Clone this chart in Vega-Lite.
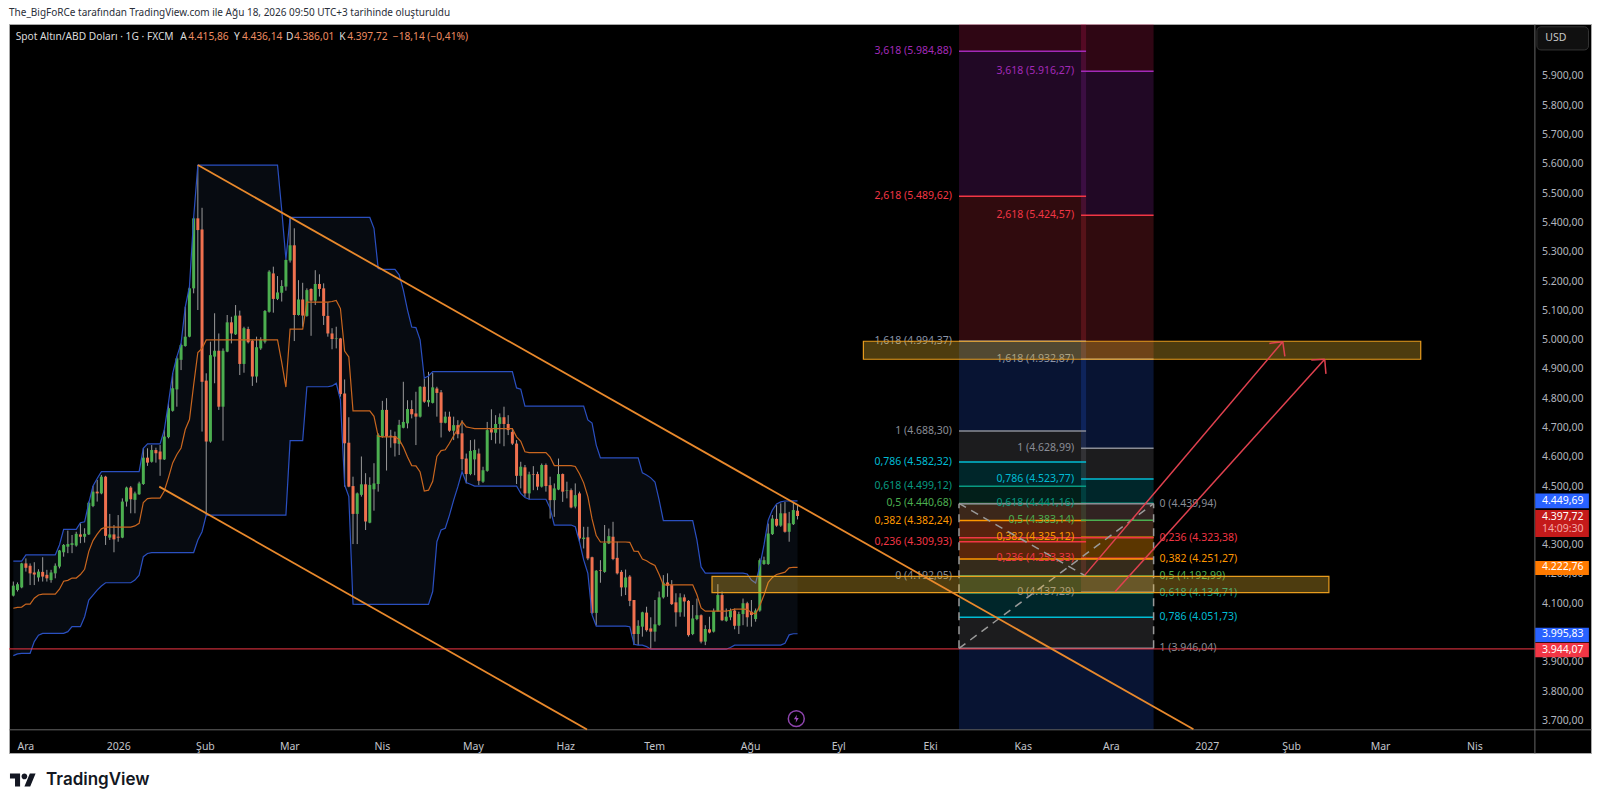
{
"$schema":"https://vega.github.io/schema/vega-lite/v6.json",
"width":1582,"height":729,
"autosize":{"type":"none"},
"padding":{"left":9,"top":24,"right":9,"bottom":53},
"background":"#ffffff",
"title":{"text":"The_BigFoRCe tarafından TradingView.com ile Ağu 18, 2026 09:50 UTC+3 tarihinde oluşturuldu","anchor":"start","frame":"group","fontSize":10,"fontWeight":"normal","color":"#2a2e39","offset":6},
"config":{"font":"Noto Sans","view":{"stroke":"#a8a8a8","fill":"#000000"},"text":{"fontSize":10.5}},
"datasets":{
"bars":[
{"i":0,"o":4126,"h":4174,"l":4123,"c":4160,"u":4244,"m":4083,"b":3921},
{"i":1,"o":4145,"h":4171,"l":4140,"c":4165,"u":4244,"m":4086,"b":3927},
{"i":2,"o":4154,"h":4238,"l":4151,"c":4236,"u":4244,"m":4087,"b":3929},
{"i":3,"o":4236,"h":4253,"l":4208,"c":4221,"u":4265,"m":4097,"b":3929},
{"i":4,"o":4228,"h":4236,"l":4162,"c":4202,"u":4265,"m":4097,"b":3929},
{"i":5,"o":4205,"h":4240,"l":4162,"c":4198,"u":4265,"m":4117,"b":3969},
{"i":6,"o":4188,"h":4216,"l":4174,"c":4208,"u":4265,"m":4128,"b":3991},
{"i":7,"o":4207,"h":4257,"l":4174,"c":4191,"u":4265,"m":4131,"b":3997},
{"i":8,"o":4197,"h":4214,"l":4174,"c":4185,"u":4265,"m":4131,"b":3997},
{"i":9,"o":4179,"h":4214,"l":4170,"c":4205,"u":4265,"m":4131,"b":3997},
{"i":10,"o":4202,"h":4236,"l":4185,"c":4228,"u":4265,"m":4131,"b":3997},
{"i":11,"o":4225,"h":4282,"l":4219,"c":4280,"u":4299,"m":4148,"b":3997},
{"i":12,"o":4274,"h":4302,"l":4259,"c":4299,"u":4352,"m":4175,"b":3997},
{"i":13,"o":4293,"h":4348,"l":4271,"c":4302,"u":4352,"m":4178,"b":4003},
{"i":14,"o":4299,"h":4333,"l":4271,"c":4305,"u":4352,"m":4186,"b":4020},
{"i":15,"o":4297,"h":4344,"l":4293,"c":4337,"u":4352,"m":4186,"b":4020},
{"i":16,"o":4335,"h":4373,"l":4305,"c":4327,"u":4375,"m":4198,"b":4020},
{"i":17,"o":4327,"h":4356,"l":4307,"c":4337,"u":4378,"m":4216,"b":4054},
{"i":18,"o":4335,"h":4447,"l":4333,"c":4443,"u":4443,"m":4277,"b":4111},
{"i":19,"o":4432,"h":4500,"l":4428,"c":4481,"u":4500,"m":4314,"b":4128},
{"i":20,"o":4481,"h":4521,"l":4447,"c":4475,"u":4526,"m":4336,"b":4145},
{"i":21,"o":4475,"h":4538,"l":4472,"c":4532,"u":4549,"m":4354,"b":4159},
{"i":22,"o":4532,"h":4535,"l":4299,"c":4330,"u":4549,"m":4360,"b":4170},
{"i":23,"o":4324,"h":4405,"l":4316,"c":4335,"u":4549,"m":4360,"b":4170},
{"i":24,"o":4335,"h":4367,"l":4274,"c":4318,"u":4549,"m":4360,"b":4170},
{"i":25,"o":4327,"h":4401,"l":4310,"c":4324,"u":4549,"m":4360,"b":4170},
{"i":26,"o":4324,"h":4458,"l":4322,"c":4447,"u":4549,"m":4360,"b":4170},
{"i":27,"o":4447,"h":4498,"l":4430,"c":4495,"u":4549,"m":4360,"b":4170},
{"i":28,"o":4495,"h":4500,"l":4407,"c":4455,"u":4549,"m":4360,"b":4170},
{"i":29,"o":4453,"h":4481,"l":4407,"c":4475,"u":4549,"m":4364,"b":4179},
{"i":30,"o":4472,"h":4515,"l":4470,"c":4509,"u":4549,"m":4373,"b":4196},
{"i":31,"o":4507,"h":4629,"l":4504,"c":4597,"u":4629,"m":4444,"b":4259},
{"i":32,"o":4597,"h":4629,"l":4569,"c":4580,"u":4644,"m":4457,"b":4270},
{"i":33,"o":4583,"h":4640,"l":4580,"c":4623,"u":4644,"m":4459,"b":4273},
{"i":34,"o":4623,"h":4631,"l":4580,"c":4612,"u":4644,"m":4459,"b":4273},
{"i":35,"o":4618,"h":4640,"l":4535,"c":4591,"u":4644,"m":4459,"b":4273},
{"i":36,"o":4591,"h":4692,"l":4589,"c":4669,"u":4692,"m":4483,"b":4273},
{"i":37,"o":4667,"h":4785,"l":4663,"c":4766,"u":4785,"m":4529,"b":4273},
{"i":38,"o":4757,"h":4885,"l":4754,"c":4834,"u":4885,"m":4579,"b":4273},
{"i":39,"o":4830,"h":4942,"l":4771,"c":4936,"u":4942,"m":4608,"b":4273},
{"i":40,"o":4931,"h":4987,"l":4896,"c":4982,"u":4987,"m":4630,"b":4273},
{"i":41,"o":4978,"h":5112,"l":4976,"c":5010,"u":5112,"m":4693,"b":4273},
{"i":42,"o":5010,"h":5181,"l":5008,"c":5175,"u":5181,"m":4727,"b":4273},
{"i":43,"o":5175,"h":5417,"l":5158,"c":5414,"u":5417,"m":4845,"b":4273},
{"i":44,"o":5414,"h":5596,"l":5101,"c":5374,"u":5596,"m":4956,"b":4316},
{"i":45,"o":5376,"h":5450,"l":4686,"c":4856,"u":5596,"m":4970,"b":4344},
{"i":46,"o":4860,"h":4885,"l":4401,"c":4652,"u":5596,"m":4999,"b":4401},
{"i":47,"o":4652,"h":4993,"l":4648,"c":4947,"u":5596,"m":4999,"b":4401},
{"i":48,"o":4942,"h":5090,"l":4851,"c":4962,"u":5596,"m":4999,"b":4401},
{"i":49,"o":4962,"h":5021,"l":4760,"c":4771,"u":5596,"m":4999,"b":4401},
{"i":50,"o":4771,"h":4970,"l":4655,"c":4962,"u":5596,"m":4999,"b":4401},
{"i":51,"o":4959,"h":5084,"l":4957,"c":5059,"u":5596,"m":4999,"b":4401},
{"i":52,"o":5059,"h":5078,"l":4987,"c":5021,"u":5596,"m":4999,"b":4401},
{"i":53,"o":5018,"h":5118,"l":5016,"c":5082,"u":5596,"m":4999,"b":4401},
{"i":54,"o":5082,"h":5099,"l":4879,"c":4917,"u":5596,"m":4999,"b":4401},
{"i":55,"o":4917,"h":5044,"l":4887,"c":5039,"u":5596,"m":4999,"b":4401},
{"i":56,"o":5036,"h":5044,"l":4987,"c":4991,"u":5596,"m":4999,"b":4401},
{"i":57,"o":4996,"h":4999,"l":4842,"c":4874,"u":5596,"m":4999,"b":4401},
{"i":58,"o":4874,"h":5010,"l":4853,"c":4974,"u":5596,"m":4999,"b":4401},
{"i":59,"o":4970,"h":5008,"l":4965,"c":4999,"u":5596,"m":4999,"b":4401},
{"i":60,"o":4993,"h":5101,"l":4987,"c":5098,"u":5596,"m":4999,"b":4401},
{"i":61,"o":5095,"h":5237,"l":5092,"c":5232,"u":5596,"m":4999,"b":4401},
{"i":62,"o":5226,"h":5249,"l":5092,"c":5139,"u":5596,"m":4999,"b":4401},
{"i":63,"o":5139,"h":5217,"l":5135,"c":5161,"u":5596,"m":4999,"b":4401},
{"i":64,"o":5160,"h":5203,"l":5130,"c":5183,"u":5443,"m":4922,"b":4401},
{"i":65,"o":5181,"h":5274,"l":5167,"c":5272,"u":5274,"m":4838,"b":4401},
{"i":66,"o":5270,"h":5414,"l":5263,"c":5322,"u":5417,"m":5036,"b":4655},
{"i":67,"o":5322,"h":5380,"l":4995,"c":5084,"u":5417,"m":5036,"b":4655},
{"i":68,"o":5084,"h":5203,"l":5082,"c":5137,"u":5417,"m":5036,"b":4655},
{"i":69,"o":5137,"h":5194,"l":5044,"c":5082,"u":5417,"m":5036,"b":4655},
{"i":70,"o":5081,"h":5175,"l":5078,"c":5169,"u":5417,"m":5128,"b":4839},
{"i":71,"o":5173,"h":5175,"l":5013,"c":5133,"u":5417,"m":5128,"b":4839},
{"i":72,"o":5133,"h":5237,"l":5118,"c":5190,"u":5417,"m":5128,"b":4839},
{"i":73,"o":5190,"h":5223,"l":5147,"c":5173,"u":5417,"m":5128,"b":4839},
{"i":74,"o":5175,"h":5192,"l":5050,"c":5081,"u":5417,"m":5128,"b":4839},
{"i":75,"o":5081,"h":5127,"l":5010,"c":5021,"u":5417,"m":5128,"b":4839},
{"i":76,"o":5021,"h":5039,"l":4967,"c":5002,"u":5417,"m":5130,"b":4842},
{"i":77,"o":5002,"h":5044,"l":4970,"c":5004,"u":5417,"m":5134,"b":4851},
{"i":78,"o":5004,"h":5006,"l":4805,"c":4814,"u":5417,"m":5106,"b":4794},
{"i":79,"o":4816,"h":4864,"l":4498,"c":4646,"u":5417,"m":4961,"b":4504},
{"i":80,"o":4648,"h":4735,"l":4496,"c":4498,"u":5417,"m":4941,"b":4464},
{"i":81,"o":4500,"h":4532,"l":4302,"c":4405,"u":5417,"m":4757,"b":4097},
{"i":82,"o":4405,"h":4478,"l":4302,"c":4475,"u":5417,"m":4757,"b":4096},
{"i":83,"o":4470,"h":4601,"l":4464,"c":4506,"u":5417,"m":4757,"b":4096},
{"i":84,"o":4506,"h":4544,"l":4350,"c":4379,"u":5417,"m":4757,"b":4096},
{"i":85,"o":4375,"h":4530,"l":4373,"c":4504,"u":5417,"m":4757,"b":4096},
{"i":86,"o":4489,"h":4578,"l":4416,"c":4509,"u":5380,"m":4738,"b":4096},
{"i":87,"o":4507,"h":4680,"l":4481,"c":4675,"u":5243,"m":4670,"b":4096},
{"i":88,"o":4669,"h":4791,"l":4665,"c":4760,"u":5240,"m":4668,"b":4096},
{"i":89,"o":4760,"h":4800,"l":4553,"c":4669,"u":5240,"m":4668,"b":4096},
{"i":90,"o":4672,"h":4692,"l":4631,"c":4669,"u":5240,"m":4668,"b":4096},
{"i":91,"o":4671,"h":4686,"l":4601,"c":4646,"u":5240,"m":4668,"b":4096},
{"i":92,"o":4644,"h":4726,"l":4606,"c":4709,"u":5221,"m":4659,"b":4096},
{"i":93,"o":4699,"h":4856,"l":4697,"c":4719,"u":5169,"m":4633,"b":4096},
{"i":94,"o":4714,"h":4793,"l":4697,"c":4763,"u":5101,"m":4599,"b":4096},
{"i":95,"o":4763,"h":4793,"l":4731,"c":4745,"u":5043,"m":4570,"b":4096},
{"i":96,"o":4748,"h":4822,"l":4640,"c":4737,"u":5041,"m":4569,"b":4096},
{"i":97,"o":4737,"h":4841,"l":4734,"c":4839,"u":4999,"m":4548,"b":4096},
{"i":98,"o":4839,"h":4867,"l":4784,"c":4788,"u":4869,"m":4483,"b":4096},
{"i":99,"o":4786,"h":4890,"l":4771,"c":4794,"u":4876,"m":4486,"b":4096},
{"i":100,"o":4784,"h":4887,"l":4782,"c":4837,"u":4891,"m":4516,"b":4140},
{"i":101,"o":4833,"h":4839,"l":4737,"c":4818,"u":4891,"m":4601,"b":4310},
{"i":102,"o":4820,"h":4828,"l":4666,"c":4716,"u":4891,"m":4621,"b":4350},
{"i":103,"o":4716,"h":4754,"l":4714,"c":4737,"u":4891,"m":4624,"b":4356},
{"i":104,"o":4737,"h":4754,"l":4685,"c":4689,"u":4891,"m":4646,"b":4401},
{"i":105,"o":4689,"h":4737,"l":4657,"c":4708,"u":4891,"m":4672,"b":4452},
{"i":106,"o":4708,"h":4725,"l":4663,"c":4677,"u":4891,"m":4695,"b":4498},
{"i":107,"o":4680,"h":4725,"l":4554,"c":4592,"u":4891,"m":4720,"b":4549},
{"i":108,"o":4594,"h":4611,"l":4509,"c":4541,"u":4891,"m":4702,"b":4512},
{"i":109,"o":4541,"h":4657,"l":4537,"c":4620,"u":4891,"m":4699,"b":4506},
{"i":110,"o":4591,"h":4659,"l":4537,"c":4623,"u":4891,"m":4696,"b":4500},
{"i":111,"o":4611,"h":4628,"l":4503,"c":4518,"u":4891,"m":4696,"b":4500},
{"i":112,"o":4515,"h":4566,"l":4511,"c":4554,"u":4891,"m":4696,"b":4500},
{"i":113,"o":4552,"h":4719,"l":4549,"c":4691,"u":4891,"m":4696,"b":4500},
{"i":114,"o":4694,"h":4762,"l":4657,"c":4683,"u":4891,"m":4696,"b":4500},
{"i":115,"o":4682,"h":4742,"l":4645,"c":4712,"u":4891,"m":4696,"b":4500},
{"i":116,"o":4712,"h":4748,"l":4645,"c":4735,"u":4891,"m":4696,"b":4500},
{"i":117,"o":4735,"h":4771,"l":4636,"c":4712,"u":4891,"m":4696,"b":4500},
{"i":118,"o":4712,"h":4742,"l":4674,"c":4691,"u":4891,"m":4696,"b":4500},
{"i":119,"o":4685,"h":4697,"l":4640,"c":4645,"u":4891,"m":4696,"b":4500},
{"i":120,"o":4645,"h":4657,"l":4507,"c":4535,"u":4835,"m":4668,"b":4500},
{"i":121,"o":4535,"h":4583,"l":4492,"c":4566,"u":4831,"m":4653,"b":4475},
{"i":122,"o":4564,"h":4572,"l":4463,"c":4475,"u":4773,"m":4617,"b":4461},
{"i":123,"o":4475,"h":4549,"l":4454,"c":4540,"u":4773,"m":4614,"b":4455},
{"i":124,"o":4540,"h":4568,"l":4486,"c":4538,"u":4773,"m":4614,"b":4455},
{"i":125,"o":4541,"h":4549,"l":4486,"c":4498,"u":4773,"m":4614,"b":4455},
{"i":126,"o":4498,"h":4577,"l":4495,"c":4572,"u":4773,"m":4614,"b":4455},
{"i":127,"o":4572,"h":4577,"l":4481,"c":4500,"u":4773,"m":4614,"b":4455},
{"i":128,"o":4503,"h":4532,"l":4389,"c":4452,"u":4773,"m":4599,"b":4424},
{"i":129,"o":4452,"h":4509,"l":4395,"c":4492,"u":4773,"m":4570,"b":4367},
{"i":130,"o":4488,"h":4594,"l":4486,"c":4541,"u":4773,"m":4570,"b":4367},
{"i":131,"o":4541,"h":4543,"l":4446,"c":4481,"u":4773,"m":4570,"b":4367},
{"i":132,"o":4484,"h":4515,"l":4458,"c":4486,"u":4773,"m":4570,"b":4367},
{"i":133,"o":4486,"h":4492,"l":4424,"c":4427,"u":4773,"m":4570,"b":4367},
{"i":134,"o":4430,"h":4509,"l":4424,"c":4469,"u":4773,"m":4567,"b":4361},
{"i":135,"o":4475,"h":4481,"l":4310,"c":4321,"u":4773,"m":4542,"b":4310},
{"i":136,"o":4319,"h":4361,"l":4287,"c":4324,"u":4773,"m":4511,"b":4248},
{"i":137,"o":4325,"h":4361,"l":4247,"c":4253,"u":4726,"m":4464,"b":4202},
{"i":138,"o":4257,"h":4259,"l":4063,"c":4067,"u":4715,"m":4388,"b":4060},
{"i":139,"o":4067,"h":4213,"l":4025,"c":4211,"u":4640,"m":4331,"b":4022},
{"i":140,"o":4213,"h":4247,"l":4170,"c":4211,"u":4596,"m":4309,"b":4022},
{"i":141,"o":4207,"h":4367,"l":4204,"c":4306,"u":4596,"m":4309,"b":4022},
{"i":142,"o":4304,"h":4355,"l":4302,"c":4329,"u":4596,"m":4309,"b":4022},
{"i":143,"o":4327,"h":4378,"l":4247,"c":4251,"u":4596,"m":4309,"b":4022},
{"i":144,"o":4255,"h":4310,"l":4198,"c":4202,"u":4596,"m":4309,"b":4022},
{"i":145,"o":4207,"h":4213,"l":4124,"c":4154,"u":4596,"m":4309,"b":4022},
{"i":146,"o":4154,"h":4215,"l":4128,"c":4188,"u":4596,"m":4309,"b":4022},
{"i":147,"o":4191,"h":4196,"l":4090,"c":4108,"u":4596,"m":4308,"b":4020},
{"i":148,"o":4111,"h":4111,"l":3957,"c":3995,"u":4596,"m":4278,"b":3960},
{"i":149,"o":3995,"h":4042,"l":3957,"c":4023,"u":4596,"m":4277,"b":3957},
{"i":150,"o":4020,"h":4071,"l":3986,"c":4069,"u":4545,"m":4251,"b":3957},
{"i":151,"o":4068,"h":4088,"l":4003,"c":4008,"u":4538,"m":4245,"b":3952},
{"i":152,"o":4014,"h":4052,"l":3944,"c":4003,"u":4528,"m":4236,"b":3943},
{"i":153,"o":4003,"h":4111,"l":3969,"c":4028,"u":4514,"m":4229,"b":3943},
{"i":154,"o":4026,"h":4140,"l":4023,"c":4120,"u":4452,"m":4198,"b":3943},
{"i":155,"o":4120,"h":4196,"l":4116,"c":4170,"u":4382,"m":4163,"b":3943},
{"i":156,"o":4171,"h":4202,"l":4122,"c":4160,"u":4382,"m":4163,"b":3943},
{"i":157,"o":4162,"h":4179,"l":4094,"c":4097,"u":4382,"m":4163,"b":3943},
{"i":158,"o":4103,"h":4134,"l":4020,"c":4069,"u":4382,"m":4163,"b":3943},
{"i":159,"o":4069,"h":4134,"l":4054,"c":4120,"u":4382,"m":4163,"b":3943},
{"i":160,"o":4120,"h":4130,"l":4054,"c":4106,"u":4382,"m":4163,"b":3943},
{"i":161,"o":4108,"h":4111,"l":3986,"c":3991,"u":4382,"m":4163,"b":3943},
{"i":162,"o":3995,"h":4094,"l":3991,"c":4048,"u":4382,"m":4163,"b":3943},
{"i":163,"o":4046,"h":4116,"l":4042,"c":4059,"u":4316,"m":4130,"b":3943},
{"i":164,"o":4059,"h":4062,"l":3963,"c":3969,"u":4224,"m":4084,"b":3943},
{"i":165,"o":3969,"h":4025,"l":3957,"c":4012,"u":4203,"m":4073,"b":3943},
{"i":166,"o":4011,"h":4054,"l":3997,"c":4000,"u":4203,"m":4073,"b":3943},
{"i":167,"o":4003,"h":4082,"l":4000,"c":4073,"u":4203,"m":4073,"b":3943},
{"i":168,"o":4073,"h":4165,"l":4071,"c":4128,"u":4203,"m":4073,"b":3943},
{"i":169,"o":4128,"h":4140,"l":4039,"c":4042,"u":4203,"m":4073,"b":3943},
{"i":170,"o":4040,"h":4082,"l":4037,"c":4054,"u":4203,"m":4073,"b":3943},
{"i":171,"o":4052,"h":4082,"l":4042,"c":4075,"u":4203,"m":4076,"b":3949},
{"i":172,"o":4075,"h":4082,"l":4011,"c":4023,"u":4203,"m":4080,"b":3957},
{"i":173,"o":4023,"h":4071,"l":3995,"c":4063,"u":4203,"m":4080,"b":3957},
{"i":174,"o":4063,"h":4116,"l":4025,"c":4100,"u":4203,"m":4080,"b":3957},
{"i":175,"o":4100,"h":4105,"l":4020,"c":4052,"u":4200,"m":4079,"b":3957},
{"i":176,"o":4071,"h":4111,"l":4020,"c":4060,"u":4179,"m":4068,"b":3957},
{"i":177,"o":4046,"h":4082,"l":4037,"c":4075,"u":4169,"m":4063,"b":3957},
{"i":178,"o":4075,"h":4253,"l":4071,"c":4247,"u":4227,"m":4092,"b":3957},
{"i":179,"o":4234,"h":4259,"l":4231,"c":4247,"u":4299,"m":4128,"b":3957},
{"i":180,"o":4234,"h":4372,"l":4231,"c":4338,"u":4384,"m":4171,"b":3957},
{"i":181,"o":4336,"h":4401,"l":4333,"c":4389,"u":4418,"m":4188,"b":3957},
{"i":182,"o":4388,"h":4435,"l":4361,"c":4365,"u":4439,"m":4198,"b":3957},
{"i":183,"o":4365,"h":4441,"l":4361,"c":4407,"u":4446,"m":4202,"b":3957},
{"i":184,"o":4407,"h":4446,"l":4341,"c":4344,"u":4449,"m":4206,"b":3963},
{"i":185,"o":4344,"h":4412,"l":4310,"c":4373,"u":4449,"m":4221,"b":3992},
{"i":186,"o":4370,"h":4446,"l":4367,"c":4418,"u":4449.69,"m":4222.76,"b":3995.83},
{"i":187,"o":4415.86,"h":4436.14,"l":4386.01,"c":4397.72,"u":4449.69,"m":4222.76,"b":3995.83}
],
"zones":[
{"a":225.5,"b":255.8,"p":4192.05,"q":4309.93,"z":"0,236"},
{"a":225.5,"b":255.8,"p":4309.93,"q":4382.24,"z":"0,382"},
{"a":225.5,"b":255.8,"p":4382.24,"q":4440.68,"z":"0,5"},
{"a":225.5,"b":255.8,"p":4440.68,"q":4499.12,"z":"0,618"},
{"a":225.5,"b":255.8,"p":4499.12,"q":4582.32,"z":"0,786"},
{"a":225.5,"b":255.8,"p":4582.32,"q":4688.3,"z":"1"},
{"a":225.5,"b":255.8,"p":4688.3,"q":4994.37,"z":"zone"},
{"a":225.5,"b":255.8,"p":4994.37,"q":5489.62,"z":"2,618"},
{"a":225.5,"b":255.8,"p":5489.62,"q":5984.88,"z":"3,618"},
{"a":225.5,"b":255.8,"p":5984.88,"q":6077.5,"z":"4,236"},
{"a":254.6,"b":271.9,"p":4137.29,"q":4253.33,"z":"0,236"},
{"a":254.6,"b":271.9,"p":4253.33,"q":4325.12,"z":"0,382"},
{"a":254.6,"b":271.9,"p":4325.12,"q":4383.14,"z":"0,5"},
{"a":254.6,"b":271.9,"p":4383.14,"q":4441.16,"z":"0,618"},
{"a":254.6,"b":271.9,"p":4441.16,"q":4523.77,"z":"0,786"},
{"a":254.6,"b":271.9,"p":4523.77,"q":4628.99,"z":"1"},
{"a":254.6,"b":271.9,"p":4628.99,"q":4932.87,"z":"zone"},
{"a":254.6,"b":271.9,"p":4932.87,"q":5424.57,"z":"2,618"},
{"a":254.6,"b":271.9,"p":5424.57,"q":5916.27,"z":"3,618"},
{"a":254.6,"b":271.9,"p":5916.27,"q":6077.5,"z":"4,236"},
{"a":225.5,"b":271.9,"p":4439.94,"q":4323.38,"z":"0,236"},
{"a":225.5,"b":271.9,"p":4323.38,"q":4251.27,"z":"0,382"},
{"a":225.5,"b":271.9,"p":4251.27,"q":4192.99,"z":"0,5"},
{"a":225.5,"b":271.9,"p":4192.99,"q":4134.71,"z":"0,618"},
{"a":225.5,"b":271.9,"p":4134.71,"q":4051.73,"z":"0,786"},
{"a":225.5,"b":271.9,"p":4051.73,"q":3946.04,"z":"1"},
{"a":225.5,"b":271.9,"p":3946.04,"q":3670,"z":"zone"}
],
"levels":[
{"f":"L","a":225.5,"b":255.8,"p":4192.05,"z":"0","t":"0 (4.192,05)"},
{"f":"L","a":225.5,"b":255.8,"p":4309.93,"z":"0,236","t":"0,236 (4.309,93)"},
{"f":"L","a":225.5,"b":255.8,"p":4382.24,"z":"0,382","t":"0,382 (4.382,24)"},
{"f":"L","a":225.5,"b":255.8,"p":4440.68,"z":"0,5","t":"0,5 (4.440,68)"},
{"f":"L","a":225.5,"b":255.8,"p":4499.12,"z":"0,618","t":"0,618 (4.499,12)"},
{"f":"L","a":225.5,"b":255.8,"p":4582.32,"z":"0,786","t":"0,786 (4.582,32)"},
{"f":"L","a":225.5,"b":255.8,"p":4688.3,"z":"1","t":"1 (4.688,30)"},
{"f":"L","a":225.5,"b":255.8,"p":4994.37,"z":"1,618","t":"1,618 (4.994,37)"},
{"f":"L","a":225.5,"b":255.8,"p":5489.62,"z":"2,618","t":"2,618 (5.489,62)"},
{"f":"L","a":225.5,"b":255.8,"p":5984.88,"z":"3,618","t":"3,618 (5.984,88)"},
{"f":"L","a":254.6,"b":271.9,"p":4137.29,"z":"0","t":"0 (4.137,29)"},
{"f":"L","a":254.6,"b":271.9,"p":4253.33,"z":"0,236","t":"0,236 (4.253,33)"},
{"f":"L","a":254.6,"b":271.9,"p":4325.12,"z":"0,382","t":"0,382 (4.325,12)"},
{"f":"L","a":254.6,"b":271.9,"p":4383.14,"z":"0,5","t":"0,5 (4.383,14)"},
{"f":"L","a":254.6,"b":271.9,"p":4441.16,"z":"0,618","t":"0,618 (4.441,16)"},
{"f":"L","a":254.6,"b":271.9,"p":4523.77,"z":"0,786","t":"0,786 (4.523,77)"},
{"f":"L","a":254.6,"b":271.9,"p":4628.99,"z":"1","t":"1 (4.628,99)"},
{"f":"L","a":254.6,"b":271.9,"p":4932.87,"z":"1,618","t":"1,618 (4.932,87)"},
{"f":"L","a":254.6,"b":271.9,"p":5424.57,"z":"2,618","t":"2,618 (5.424,57)"},
{"f":"L","a":254.6,"b":271.9,"p":5916.27,"z":"3,618","t":"3,618 (5.916,27)"},
{"f":"R","a":225.5,"b":271.9,"p":4439.94,"z":"0","t":"0 (4.439,94)"},
{"f":"R","a":225.5,"b":271.9,"p":4323.38,"z":"0,236","t":"0,236 (4.323,38)"},
{"f":"R","a":225.5,"b":271.9,"p":4251.27,"z":"0,382","t":"0,382 (4.251,27)"},
{"f":"R","a":225.5,"b":271.9,"p":4192.99,"z":"0,5","t":"0,5 (4.192,99)"},
{"f":"R","a":225.5,"b":271.9,"p":4134.71,"z":"0,618","t":"0,618 (4.134,71)"},
{"f":"R","a":225.5,"b":271.9,"p":4051.73,"z":"0,786","t":"0,786 (4.051,73)"},
{"f":"R","a":225.5,"b":271.9,"p":3946.04,"z":"1","t":"1 (3.946,04)"}
],
"boxes":[
{"a":166.6,"b":313.7,"p":4192,"q":4136},
{"a":202.7,"b":335.6,"p":4994.4,"q":4932.9}
],
"trend":[
{"a":44,"b":281.4,"p":5596,"q":3670},
{"a":34.8,"b":136.8,"p":4498,"q":3669}
],
"arrows":[
{"a":255.5,"b":302.7,"p":4196,"q":4993},
{"a":299.5,"b":302.7,"p":4987,"q":4993},
{"a":303.2,"b":302.7,"p":4943,"q":4993},
{"a":262.7,"b":312.7,"p":4139,"q":4933},
{"a":309.5,"b":312.7,"p":4930,"q":4933},
{"a":313,"b":312.7,"p":4883,"q":4933}
],
"dashes":[
{"a":225.5,"b":271.9,"p":3946.04,"q":4439.94},
{"a":225.5,"b":225.5,"p":3946.04,"q":4439.94},
{"a":271.9,"b":271.9,"p":3946.04,"q":4439.94},
{"a":225.5,"b":255.8,"p":4440.68,"q":4192.05}
],
"support":[{"a":-1.03,"b":362.8,"p":3944.07,"q":3944.07}],
"badges":[
{"k":"upper","p":4475,"q":4424},
{"k":"close","p":4418,"q":4326},
{"k":"mid","p":4244,"q":4196},
{"k":"upper","p":4016,"q":3968},
{"k":"level","p":3965,"q":3916}
],
"badgeText":[
{"t":"4.449,69","p":4450,"k":"a"},
{"t":"4.397,72","p":4396,"k":"a"},
{"t":"14:09:30","p":4353,"k":"b"},
{"t":"4.222,76","p":4222,"k":"a"},
{"t":"3.995,83","p":3994,"k":"a"},
{"t":"3.944,07","p":3941,"k":"a"}
],
"head":[
{"i":0.57,"t":"Spot Altın/ABD Doları · 1G · FXCM","k":"w"},
{"i":39.8,"t":"A","k":"w"},{"i":41.7,"t":"4.415,86","k":"o"},
{"i":52.6,"t":"Y","k":"w"},{"i":54.5,"t":"4.436,14","k":"o"},
{"i":65,"t":"D","k":"w"},{"i":66.9,"t":"4.386,01","k":"o"},
{"i":77.7,"t":"K","k":"w"},{"i":79.6,"t":"4.397,72","k":"o"},
{"i":90.5,"t":"−18,14 (−0,41%)","k":"o"}
]
},
"data":{"name":"bars"},
"layer":[
{"mark":{"type":"area","color":"#070b11"},
 "encoding":{
  "x":{"field":"i","type":"quantitative","scale":{"domain":[-1.03,376.2],"nice":false,"zero":false,"padding":0},
   "axis":{"orient":"bottom","title":null,"offset":-23.7,"grid":false,"ticks":false,"domainColor":"#666666","labelColor":"#c2c4ca","labelFontSize":10.5,"labelPadding":12,"labelOverlap":false,"labelBound":false,"labelFlush":false,"tickCount":40,
    "values":[2.86,25,45.7,65.8,87.9,109.6,131.6,152.8,175.7,196.7,218.6,240.7,261.7,284.6,304.7,325.9,348.4],
    "labelExpr":"{'2.86':'Ara','25':'2026','45.7':'Şub','65.8':'Mar','87.9':'Nis','109.6':'May','131.6':'Haz','152.8':'Tem','175.7':'Ağu','196.7':'Eyl','218.6':'Eki','240.7':'Kas','261.7':'Ara','284.6':'2027','304.7':'Şub','325.9':'Mar','348.4':'Nis'}[''+datum.value]"}},
  "y":{"field":"u","type":"quantitative","scale":{"domain":[3588.7,6077.5],"nice":false,"zero":false},
   "axis":{"orient":"right","title":null,"offset":-56.6,"grid":false,"ticks":false,"domainColor":"#666666","labelColor":"#b2b5be","labelFontSize":10.5,"labelPadding":7,"labelOverlap":false,"labelBound":false,"tickCount":40,
    "values":[3700,3800,3900,4000,4100,4200,4300,4400,4500,4600,4700,4800,4900,5000,5100,5200,5300,5400,5500,5600,5700,5800,5900],
    "labelExpr":"format(floor(datum.value/1000),'d')+'.'+format(datum.value%1000,'03d')+',00'"}},
  "y2":{"field":"b"}}},
{"data":{"name":"zones"},"mark":{"type":"rect","opacity":0.2},
 "encoding":{"x":{"field":"a","type":"quantitative"},"x2":{"field":"b"},"y":{"field":"p","type":"quantitative"},"y2":{"field":"q"},
  "color":{"field":"z","type":"nominal","legend":null,"scale":{"domain":["0","0,236","0,382","0,5","0,618","0,786","1","1,618","zone","2,618","3,618","4,236"],"range":["#8a8d96","#f23645","#ff9800","#4caf50","#089981","#00bcd4","#8a8d96","#8b95a8","#2962ff","#f23645","#a32ab8","#e91e63"]}}}},
{"mark":{"type":"rule","color":"#9a9a9a","strokeWidth":1},
 "encoding":{"x":{"field":"i","type":"quantitative"},"y":{"field":"h","type":"quantitative"},"y2":{"field":"l"}}},
{"mark":{"type":"bar","size":3},
 "encoding":{"x":{"field":"i","type":"quantitative"},"y":{"field":"o","type":"quantitative"},"y2":{"field":"c"},
  "color":{"condition":{"test":"datum.c>=datum.o","value":"#4caf50"},"value":"#f0714f"}}},
{"mark":{"type":"line","color":"#2a4fc0","strokeWidth":1.2},
 "encoding":{"x":{"field":"i","type":"quantitative"},"y":{"field":"u","type":"quantitative"}}},
{"mark":{"type":"line","color":"#2a4fc0","strokeWidth":1.2},
 "encoding":{"x":{"field":"i","type":"quantitative"},"y":{"field":"b","type":"quantitative"}}},
{"mark":{"type":"line","color":"#c9661f","strokeWidth":1.2},
 "encoding":{"x":{"field":"i","type":"quantitative"},"y":{"field":"m","type":"quantitative"}}},
{"data":{"name":"levels"},"mark":{"type":"rule","strokeWidth":1.5},
 "encoding":{"x":{"field":"a","type":"quantitative"},"x2":{"field":"b"},"y":{"field":"p","type":"quantitative"},
  "color":{"field":"z","type":"nominal","legend":null}}},
{"data":{"name":"levels"},"transform":[{"filter":"datum.f=='L'"}],"mark":{"type":"text","align":"right","dx":-7},
 "encoding":{"x":{"field":"a","type":"quantitative"},"y":{"field":"p","type":"quantitative"},"text":{"field":"t"},
  "color":{"field":"z","type":"nominal","legend":null}}},
{"data":{"name":"levels"},"transform":[{"filter":"datum.f=='R'"}],"mark":{"type":"text","align":"left","dx":6},
 "encoding":{"x":{"field":"b","type":"quantitative"},"y":{"field":"p","type":"quantitative"},"text":{"field":"t"},
  "color":{"field":"z","type":"nominal","legend":null}}},
{"data":{"name":"support"},"mark":{"type":"rule","color":"#f23645","strokeWidth":1},
 "encoding":{"x":{"field":"a","type":"quantitative"},"x2":{"field":"b"},"y":{"field":"p","type":"quantitative"},"y2":{"field":"q"}}},
{"data":{"name":"dashes"},"mark":{"type":"rule","color":"#9a9a9a","strokeWidth":1.5,"strokeDash":[8,6]},
 "encoding":{"x":{"field":"a","type":"quantitative"},"x2":{"field":"b"},"y":{"field":"p","type":"quantitative"},"y2":{"field":"q"}}},
{"data":{"name":"boxes"},"mark":{"type":"rect","color":"#ffc832","opacity":0.3},
 "encoding":{"x":{"field":"a","type":"quantitative"},"x2":{"field":"b"},"y":{"field":"p","type":"quantitative"},"y2":{"field":"q"}}},
{"data":{"name":"boxes"},"mark":{"type":"rect","fillOpacity":0,"stroke":"#e89c1e","strokeWidth":1.2},
 "encoding":{"x":{"field":"a","type":"quantitative"},"x2":{"field":"b"},"y":{"field":"p","type":"quantitative"},"y2":{"field":"q"}}},
{"data":{"name":"trend"},"mark":{"type":"rule","color":"#e9892c","strokeWidth":1.8},
 "encoding":{"x":{"field":"a","type":"quantitative"},"x2":{"field":"b"},"y":{"field":"p","type":"quantitative"},"y2":{"field":"q"}}},
{"data":{"name":"arrows"},"mark":{"type":"rule","color":"#e0414f","strokeWidth":1.5},
 "encoding":{"x":{"field":"a","type":"quantitative"},"x2":{"field":"b"},"y":{"field":"p","type":"quantitative"},"y2":{"field":"q"}}},
{"data":{"name":"badges"},"mark":{"type":"rect"},
 "encoding":{"x":{"datum":362.9,"type":"quantitative"},"x2":{"datum":375.7},"y":{"field":"p","type":"quantitative"},"y2":{"field":"q"},
  "fill":{"field":"k","type":"nominal","legend":null,"scale":{"domain":["upper","close","mid","level"],"range":["#2962ff","#c41a1a","#ff7a00","#f23645"]}}}},
{"data":{"name":"badgeText"},"mark":{"type":"text","align":"left"},
 "encoding":{"x":{"datum":364.5,"type":"quantitative"},"y":{"field":"p","type":"quantitative"},"text":{"field":"t"},
  "color":{"condition":{"test":"datum.k=='a'","value":"#ffffff"},"value":"#f4aaaa"}}},
{"data":{"name":"head"},"mark":{"type":"text","align":"left","fontSize":10.2},
 "encoding":{"x":{"field":"i","type":"quantitative"},"y":{"datum":6034,"type":"quantitative"},"text":{"field":"t"},
  "color":{"condition":{"test":"datum.k=='w'","value":"#dcdcdc"},"value":"#ee8d62"}}},
{"data":{"values":[{"i":363.3,"j":375.6,"p":6068,"q":5989}]},"mark":{"type":"rect","fill":"#101010","stroke":"#343434","cornerRadius":4},
 "encoding":{"x":{"field":"i","type":"quantitative"},"x2":{"field":"j"},"y":{"field":"p","type":"quantitative"},"y2":{"field":"q"}}},
{"data":{"values":[{"i":365.3,"p":6029,"t":"USD"}]},"mark":{"type":"text","align":"left","color":"#c8c8c8"},
 "encoding":{"x":{"field":"i","type":"quantitative"},"y":{"field":"p","type":"quantitative"},"text":{"field":"t"}}},
{"data":{"values":[{"i":186.7,"p":3706}]},"mark":{"type":"point","shape":"circle","size":254,"stroke":"#8e44ad","strokeWidth":1.5,"fill":"#000000","fillOpacity":1},
 "encoding":{"x":{"field":"i","type":"quantitative"},"y":{"field":"p","type":"quantitative"}}},
{"data":{"values":[{"i":186.7,"p":3706}]},"mark":{"type":"point","shape":"M0.15 -1 L-0.6 0.15 H-0.05 L-0.15 1 L0.6 -0.15 H0.05 Z","size":64,"fill":"#a24cc0","fillOpacity":1,"strokeWidth":0},
 "encoding":{"x":{"field":"i","type":"quantitative"},"y":{"field":"p","type":"quantitative"}}},
{"data":{"values":[{"i":2.3,"p":3496.5}]},"mark":{"type":"point","shape":"M-0.222 0.5 H-0.611 V-0.111 H-1 V-0.5 H-0.222 Z M0.556 0.5 H0.111 L0.528 -0.5 H0.972 Z M-0.111 -0.278 a0.222 0.222 0 1 0 0.444 0 a0.222 0.222 0 1 0 -0.444 0 Z","size":676,"fill":"#131722","fillOpacity":1,"strokeWidth":0},
 "encoding":{"x":{"field":"i","type":"quantitative"},"y":{"field":"p","type":"quantitative"}}},
{"data":{"values":[{"i":7.8,"p":3496.5,"t":"TradingView"}]},"mark":{"type":"text","align":"left","font":"Inter","fontSize":17,"fontWeight":600,"color":"#131722"},
 "encoding":{"x":{"field":"i","type":"quantitative"},"y":{"field":"p","type":"quantitative"},"text":{"field":"t"}}}
]
}
